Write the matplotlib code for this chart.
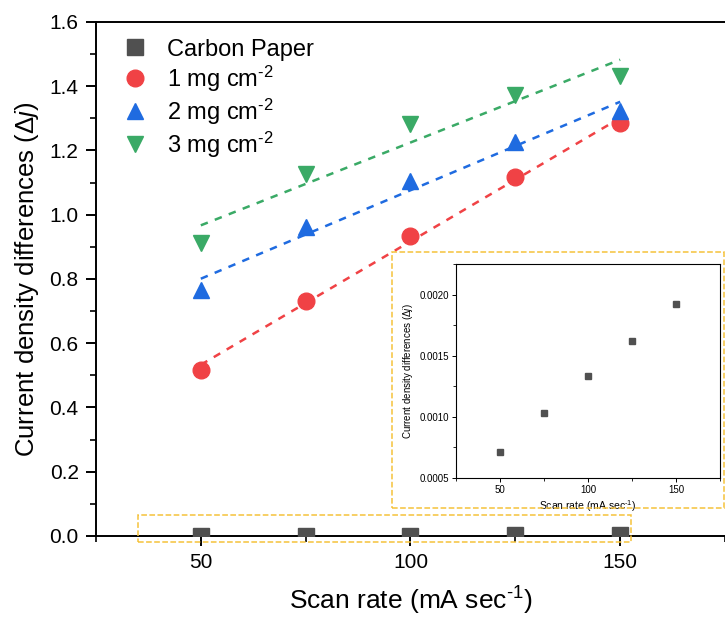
import matplotlib
matplotlib.use("Agg")
import matplotlib.pyplot as plt
import numpy as np
from matplotlib.patches import Rectangle
from matplotlib.ticker import MultipleLocator

plt.rcParams['font.family'] = ['Liberation Sans', 'DejaVu Sans']
plt.rcParams['mathtext.fontset'] = 'custom'
plt.rcParams['mathtext.rm'] = 'Liberation Sans'
plt.rcParams['mathtext.it'] = 'Liberation Sans:italic'

# scan rates (mA/sec) and current density differences
scan_rate = [50, 75, 100, 125, 150]
carbon_paper = [0.00071, 0.00103, 0.00133, 0.00162, 0.00192]
load_1mg = [0.517, 0.733, 0.933, 1.117, 1.285]
load_2mg = [0.767, 0.961, 1.104, 1.226, 1.323]
load_3mg = [0.911, 1.126, 1.282, 1.373, 1.432]

labels = ["Carbon Paper", "1 mg cm$^{\\text{-2}}$", "2 mg cm$^{\\text{-2}}$", "3 mg cm$^{\\text{-2}}$"]
colors = ["#505050", "#F04245", "#1F6BE0", "#3AAA66"]
markers = ["s", "o", "^", "v"]

fig = plt.figure(figsize=(7.25, 6.21), dpi=100)
ax = fig.add_axes([0.1324, 0.1369, 0.8676, 0.8277])

x = np.array(scan_rate)
series = [carbon_paper, load_1mg, load_2mg, load_3mg]
for y, lab, c, m in zip(series, labels, colors, markers):
    ax.plot(x, y, linestyle='none', marker=m, ms=12, color=c, label=lab, zorder=3)

# linear fits for the loaded electrodes
for y, c in zip(series[1:], colors[1:]):
    k, b = np.polyfit(x, y, 1)
    xf = np.array([50, 150])
    ax.plot(xf, k * xf + b, color=c, lw=1.8, dashes=(3, 3), zorder=2)

ax.set_xlim(25, 175)
ax.set_ylim(0, 1.6)
ax.xaxis.set_major_locator(MultipleLocator(50))
ax.xaxis.set_minor_locator(MultipleLocator(25))
ax.yaxis.set_major_locator(MultipleLocator(0.2))
ax.yaxis.set_minor_locator(MultipleLocator(0.1))
ax.yaxis.set_major_formatter(matplotlib.ticker.FormatStrFormatter('%.1f'))
ax.tick_params(which='major', direction='out', length=7, width=1.4, labelsize=15, pad=5.5)
ax.tick_params(which='minor', direction='out', length=4.5, width=1.2)
ax.tick_params(axis='x', which='both', top=False)
ax.tick_params(axis='y', which='both', right=False)
for s in ['left', 'bottom', 'top']:
    ax.spines[s].set_linewidth(1.4)
ax.spines['right'].set_visible(False)

xlab = "Scan rate (mA sec$^{\\text{-1}}$)"
ylab = "Current density differences ($\\Delta$$\\it{j}$)"
ax.set_xlabel(xlab, fontsize=19, labelpad=9)
ax.set_ylabel(ylab, fontsize=18.5, labelpad=6)

leg = ax.legend(loc='upper left', bbox_to_anchor=(0.008, 1.0), frameon=False, fontsize=17,
                handletextpad=0.6, labelspacing=0.12, borderaxespad=0.3, handlelength=1.5)

# dashed highlight around the carbon paper points
ax.add_patch(Rectangle((35, -0.019), 117.6, 0.084, fill=False, ls='--', lw=1.1,
                       ec='#F5C23A', clip_on=False, zorder=4))

# magnified view of the carbon paper data
ins = fig.add_axes([0.629, 0.2303, 0.364, 0.3446])
ins.plot(x, carbon_paper, linestyle='none', marker='s', ms=4.5, color=colors[0])
ins.set_xlim(25, 175)
ins.set_ylim(0.0005, 0.00225)
ins.xaxis.set_major_locator(MultipleLocator(50))
ins.xaxis.set_minor_locator(MultipleLocator(25))
ins.yaxis.set_major_locator(MultipleLocator(0.0005))
ins.yaxis.set_minor_locator(MultipleLocator(0.00025))
ins.yaxis.set_major_formatter(matplotlib.ticker.FormatStrFormatter('%.4f'))
ins.tick_params(which='major', direction='out', length=3, width=0.7, labelsize=7, pad=2)
ins.tick_params(which='minor', direction='out', length=2, width=0.6)
for s in ins.spines.values():
    s.set_linewidth(0.8)
ins.set_xlabel(xlab, fontsize=7.5, labelpad=2)
ins.set_ylabel(ylab, fontsize=7, labelpad=3)

fig.patches.append(Rectangle((0.5407, 0.182), 0.4579, 0.4122, transform=fig.transFigure,
                             fill=False, ls='--', lw=1.1, ec='#F5C23A', figure=fig))

fig.savefig("out.png", dpi=100)
